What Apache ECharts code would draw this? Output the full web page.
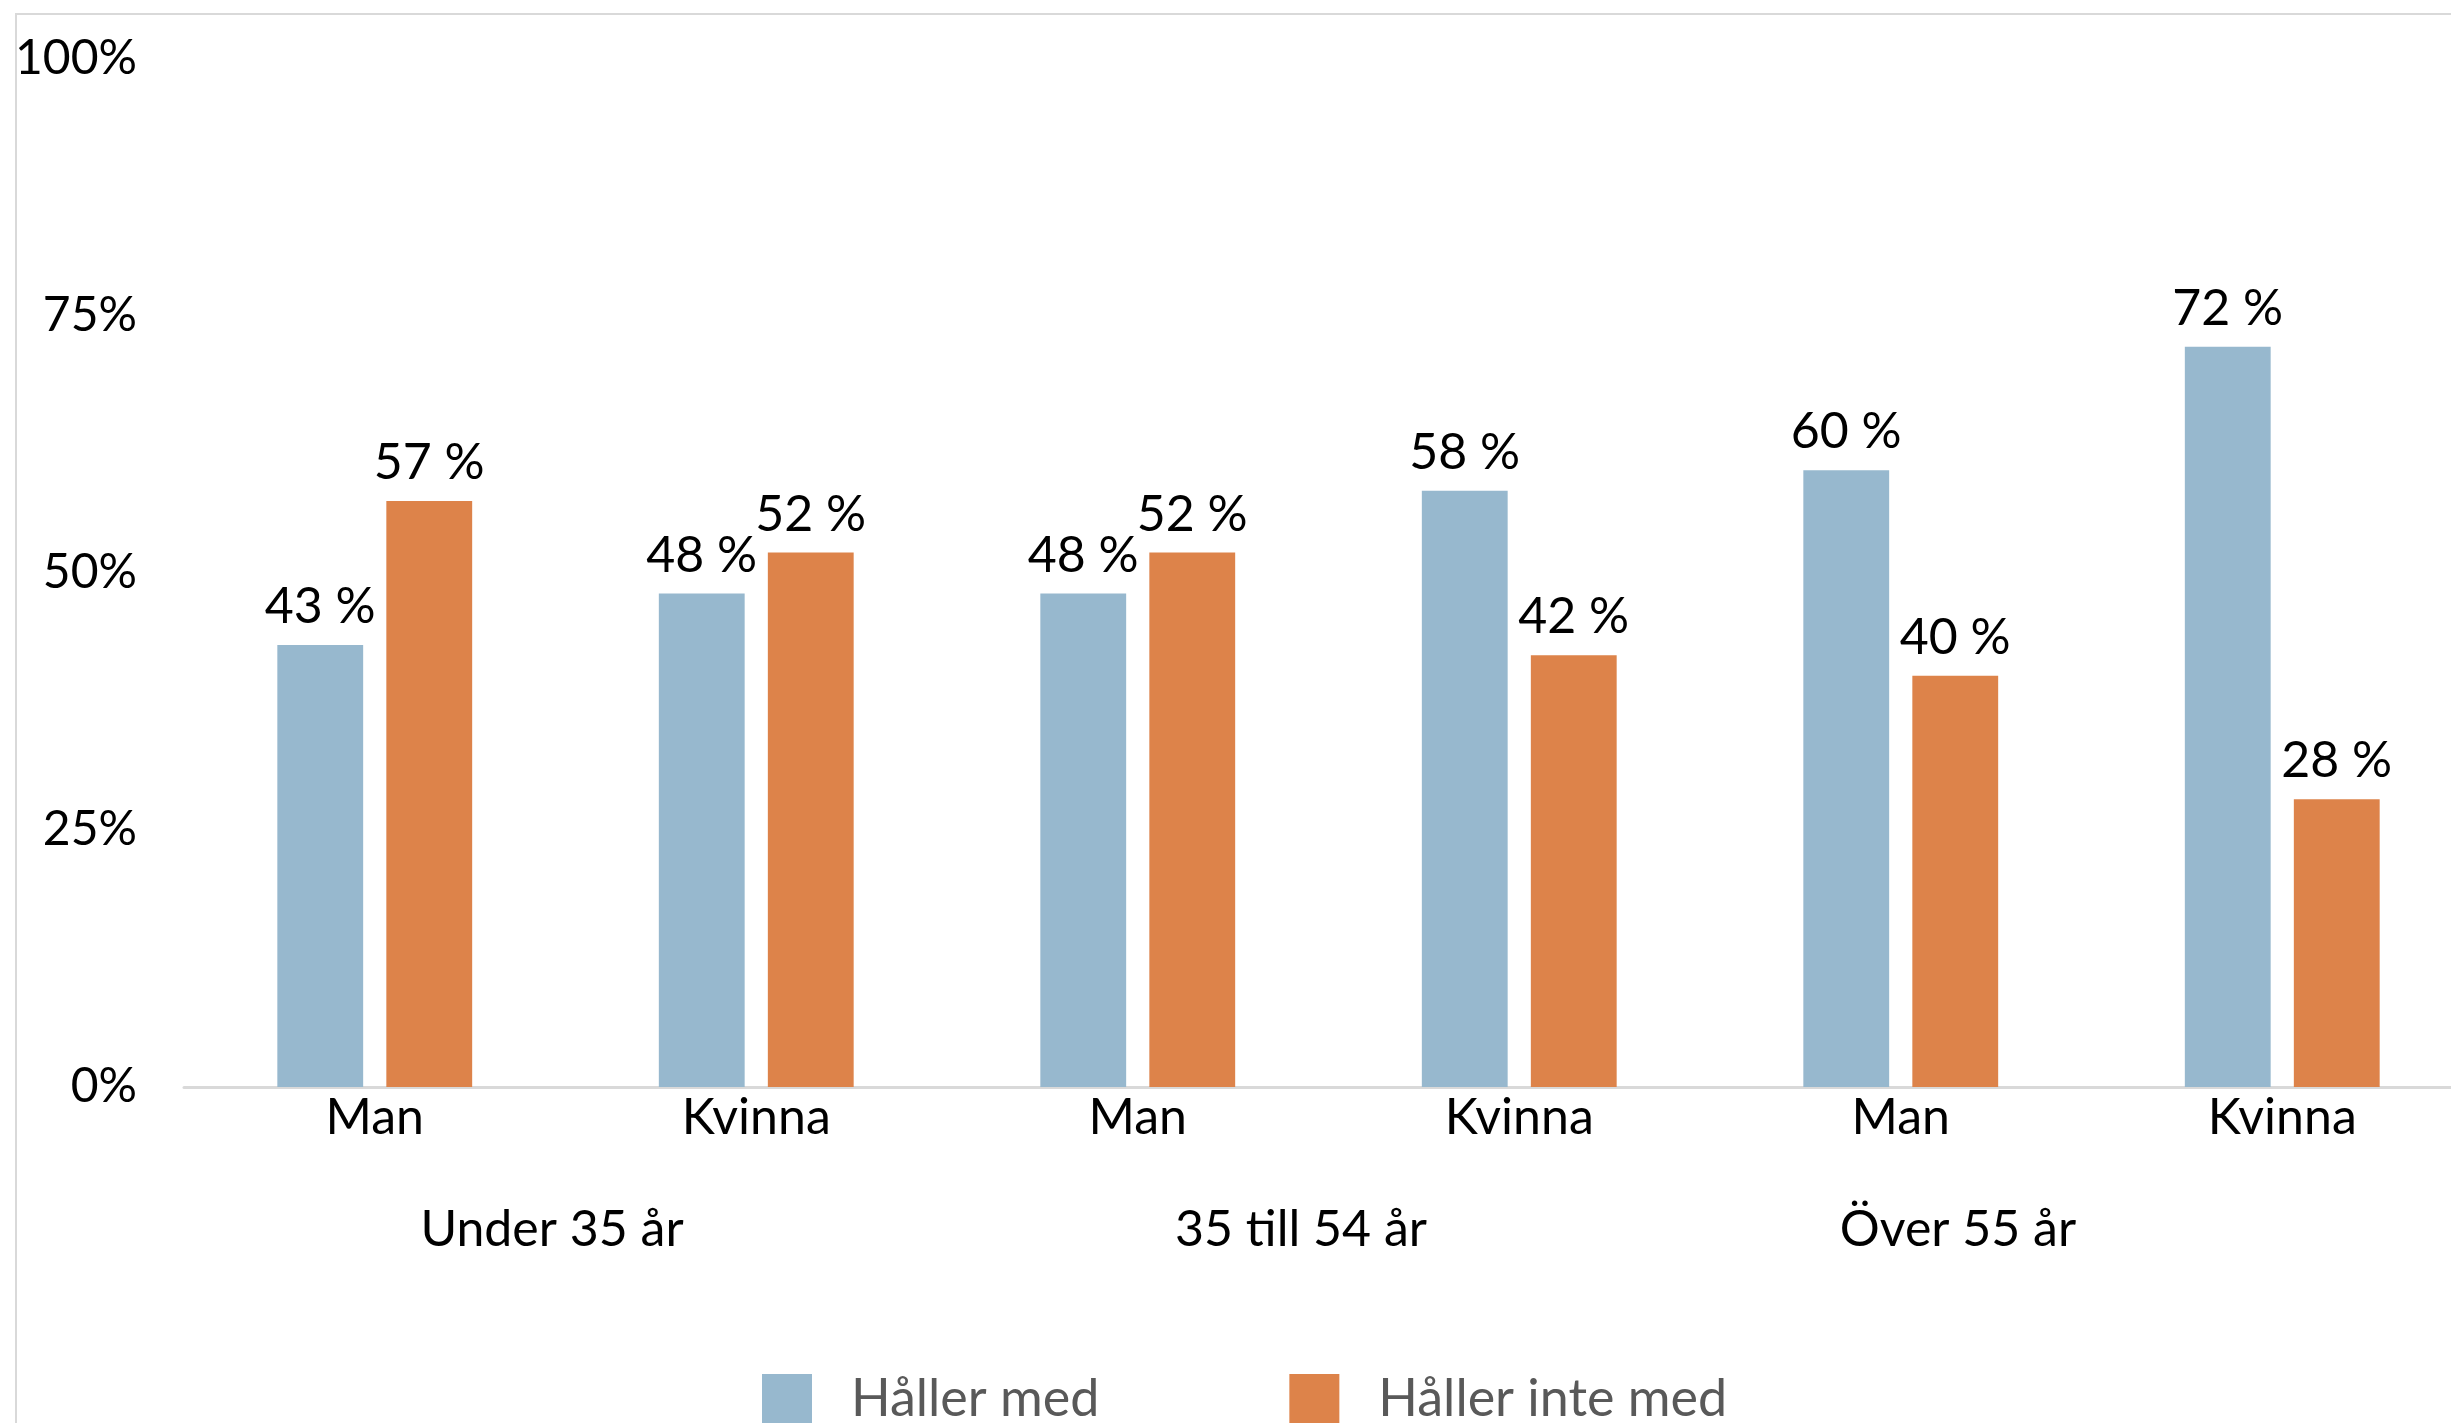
<!DOCTYPE html>
<html>
<head>
<meta charset="utf-8">
<title>Håller med</title>
<script src="https://cdn.jsdelivr.net/npm/echarts@6/dist/echarts.min.js"></script>
<style>
  html, body { margin: 0; padding: 0; background: #fff; }
  #chart { width: 2451px; height: 1423px; }
</style>
</head>
<body>
<div id="chart"></div>
<script>
// kategorier (kön) och grupper (ålder)
var categories = ["Man", "Kvinna", "Man", "Kvinna", "Man", "Kvinna"];
var groups = ["Under 35 år", "35 till 54 år", "Över 55 år"];
var seriesNames = ["Håller med", "Håller inte med"];
var agree = [43, 48, 48, 58, 60, 72];
var disagree = [57, 52, 52, 42, 40, 28];
var yTicks = [0, 25, 50, 75, 100];

var FONT = "Lato";
var chart = echarts.init(document.getElementById("chart"));

var labelStyle = {
  show: true,
  position: "top",
  distance: 13,
  color: "#000",
  fontFamily: FONT,
  fontSize: 50,
  formatter: function (p) { return p.value + " %"; }
};

// ålderstexter under kategorierna
var groupX = [552, 1301, 1958];
var groupText = groups.map(function (g, i) {
  return {
    type: "text",
    x: groupX[i],
    y: 1230,
    style: {
      text: g,
      fill: "#000",
      font: "50px " + FONT,
      textAlign: "center",
      textVerticalAlign: "middle"
    }
  };
});

var option = {
  backgroundColor: "#fff",
  animation: false,
  textStyle: { fontFamily: FONT },
  grid: {
    left: 184,
    width: 2289,
    top: 59,
    bottom: 336,
    containLabel: false,
    outerBoundsMode: "none"
  },
  legend: {
    data: seriesNames,
    left: 762,
    top: 1373,
    padding: 0,
    itemWidth: 50,
    itemHeight: 50,
    itemGap: 190,
    icon: "rect",
    textStyle: {
      color: "#595959",
      fontFamily: FONT,
      fontSize: 52,
      padding: [0, 0, 0, 34]
    }
  },
  xAxis: {
    type: "category",
    data: categories,
    axisLine: { show: true, lineStyle: { color: "#D9D9D9", width: 3 } },
    axisTick: { show: false },
    axisLabel: {
      color: "#000",
      fontFamily: FONT,
      fontSize: 50,
      margin: 6
    }
  },
  yAxis: {
    type: "value",
    min: yTicks[0],
    max: yTicks[yTicks.length - 1],
    interval: 25,
    axisLine: { show: false },
    axisTick: { show: false },
    splitLine: { show: false },
    axisLabel: {
      color: "#000",
      fontFamily: FONT,
      fontSize: 48,
      margin: 47,
      formatter: "{value}%"
    }
  },
  series: [
    {
      name: seriesNames[0],
      type: "bar",
      data: agree,
      barWidth: "22.5%",
      barGap: "27%",
      itemStyle: { color: "#97B8CE" },
      label: labelStyle
    },
    {
      name: seriesNames[1],
      type: "bar",
      data: disagree,
      barWidth: "22.5%",
      itemStyle: { color: "#DD834A" },
      label: labelStyle
    }
  ],
  graphic: [
    {
      type: "rect",
      shape: { x: 16, y: 14, width: 2500, height: 1500 },
      style: { fill: "none", stroke: "#D9D9D9", lineWidth: 2 },
      silent: true
    }
  ].concat(groupText)
};

chart.setOption(option);
</script>
</body>
</html>
